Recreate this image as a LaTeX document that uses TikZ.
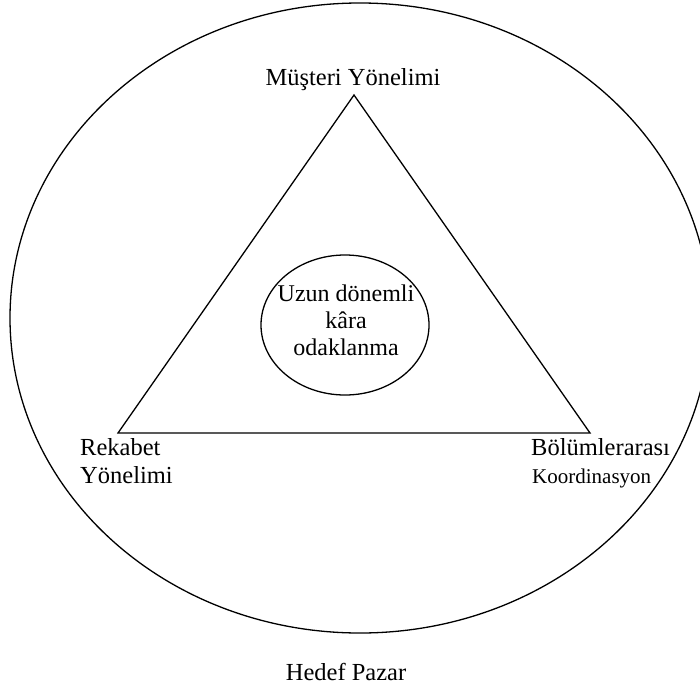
\documentclass[tikz,border=0pt]{standalone}
\usepackage{fontspec}
\setmainfont{Liberation Serif}
\usetikzlibrary{shapes.geometric}
\begin{document}
\begin{tikzpicture}[x=1pt,y=-1pt,
  line/.style={line width=1.3pt, black},
  lbl/.style={inner sep=0pt, font=\fontsize{24.5}{27}\selectfont},
  smalllbl/.style={inner sep=0pt, font=\fontsize{21}{24}\selectfont},
  oval/.style={draw, line width=1.3pt, ellipse, inner sep=0pt}]
\useasboundingbox (0,0) rectangle (700,690);
% outer market ellipse
\node[oval, minimum width=700pt, minimum height=630pt] (market) at (360,318) {};
% triangle corners
\coordinate (top) at (354,95);
\coordinate (left) at (118,433);
\coordinate (right) at (590,433);
\draw[line, line join=miter] (top) -- (left) -- (right) -- cycle;
% inner ellipse
\node[oval, minimum width=168pt, minimum height=140pt] (focus) at (345,325) {};
\node[lbl, align=center, font=\fontsize{24}{27}\selectfont] (focustxt) at (346,320) {Uzun dönemli\\kâra\\odaklanma};
% labels
\node[lbl, anchor=base] (cust) at (353,85) {Müşteri Yönelimi};
\node[lbl, anchor=base west] (comp1) at (80,455) {Rekabet};
\node[lbl, anchor=base west] (comp2) at (80,483) {Yönelimi};
\node[lbl, anchor=base west] (coord1) at (531,455) {Bölümlerarası};
\node[smalllbl, anchor=base west] (coord2) at (532,483) {Koordinasyon};
\node[lbl, anchor=base] (target) at (346,680) {Hedef Pazar};
\end{tikzpicture}
\end{document}
